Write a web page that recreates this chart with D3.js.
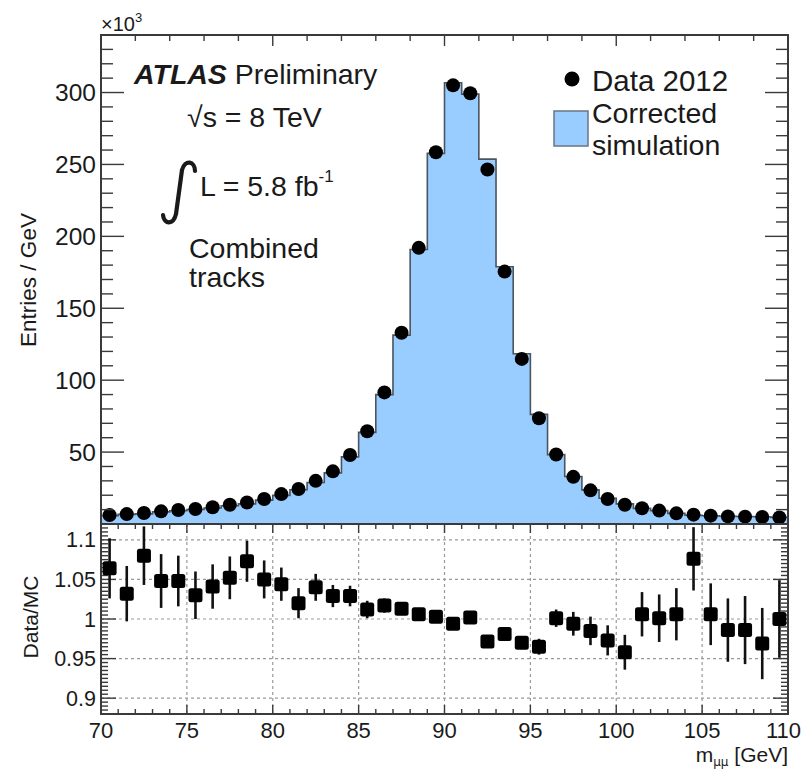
<!DOCTYPE html>
<html>
<head>
<meta charset="utf-8">
<script src="https://cdn.jsdelivr.net/npm/d3@7"></script>
<style>
  html, body { margin: 0; padding: 0; background: #fff; }
  svg { display: block; }
  text { font-family: "Liberation Sans", Arial, Helvetica, sans-serif; fill: #1a1a1a; }
</style>
</head>
<body>
<svg id="chart" width="801" height="772"></svg>
<script>
// ---------------- data ----------------
const binCenters = [70.5,71.5,72.5,73.5,74.5,75.5,76.5,77.5,78.5,79.5,
                    80.5,81.5,82.5,83.5,84.5,85.5,86.5,87.5,88.5,89.5,
                    90.5,91.5,92.5,93.5,94.5,95.5,96.5,97.5,98.5,99.5,
                    100.5,101.5,102.5,103.5,104.5,105.5,106.5,107.5,108.5,109.5];
// Data 2012, entries / GeV (x10^3)
const dataValues = [6.2,6.9,7.6,8.8,9.7,10.4,11.6,13.4,15.0,17.4,
                    20.8,24.3,30.0,36.6,48.0,64.5,91.5,133,192,258.5,
                    305,299.5,246.5,175.5,114.8,73.5,48.3,32.8,23.4,17.4,
                    13.4,10.9,9.3,7.4,6.5,5.8,5.3,5.1,4.9,4.6];
// Corrected simulation, entries / GeV (x10^3)
const mcValues = [5.83,6.69,7.04,8.40,9.26,10.10,11.14,12.74,13.98,16.57,
                  19.92,23.82,28.85,35.57,46.65,63.74,89.97,131.3,190.9,257.7,
                  306.8,298.9,253.7,178.9,118.4,76.2,48.25,33.0,23.76,17.88,
                  13.99,10.83,9.29,7.36,6.04,5.77,5.38,5.17,5.06,4.6];
// Data / MC ratio and its uncertainty
const ratioValues = [1.064,1.032,1.080,1.048,1.048,1.030,1.041,1.052,1.073,1.050,
                     1.044,1.020,1.040,1.029,1.029,1.012,1.017,1.013,1.006,1.003,
                     0.994,1.002,0.9715,0.981,0.970,0.965,1.001,0.994,0.985,0.973,
                     0.958,1.006,1.001,1.006,1.076,1.006,0.986,0.986,0.969,1.000];
const ratioErrors = [0.038,0.035,0.037,0.034,0.032,0.030,0.028,0.027,0.026,0.024,
                     0.021,0.019,0.017,0.014,0.013,0.011,0.009,0.008,0.007,0.006,
                     0.005,0.005,0.006,0.007,0.008,0.010,0.011,0.015,0.018,0.019,
                     0.022,0.028,0.030,0.033,0.040,0.039,0.040,0.043,0.045,0.049];
const mainYTicks = [50,100,150,200,250,300];
const ratioYTicks = [0.9,0.95,1,1.05,1.1];
const ratioYTickLabels = ["0.9","0.95","1","1.05","1.1"];
const xTicks = [70,75,80,85,90,95,100,105,110];
const binWidth = 1;

// ---------------- layout ----------------
const L = 101, R = 788;
const mainTop = 35, mainBot = 524;
const ratTop = 524, ratBot = 714;

const svg = d3.select("#chart");
const x = d3.scaleLinear().domain([70,110]).range([L,R]);
const y = d3.scaleLinear().domain([0,340]).range([mainBot,mainTop]);
const yr = d3.scaleLinear().domain([0.88,1.12]).range([ratBot,ratTop]);

const frameColor = "#3a3a3a";
const fillColor = "#99ccff";
const annSize = 28.5;

// ---------------- main panel ----------------
const gMain = svg.append("g");
const stepPts = [];
binCenters.forEach((c,i) => {
  stepPts.push([c - binWidth/2, mcValues[i]]);
  stepPts.push([c + binWidth/2, mcValues[i]]);
});
const area = d3.area().x(d => x(d[0])).y0(y(0)).y1(d => y(d[1]));
gMain.append("path").datum(stepPts).attr("d", area).attr("fill", fillColor);
const line = d3.line().x(d => x(d[0])).y(d => y(d[1]));
gMain.append("path").datum(stepPts).attr("d", line)
  .attr("fill","none").attr("stroke","#4a5560").attr("stroke-width",1.6);

gMain.selectAll("circle.data").data(binCenters).enter().append("circle")
  .attr("cx", d => x(d)).attr("cy", (d,i) => y(dataValues[i]))
  .attr("r", 7).attr("fill","#000");

const yMinor = d3.range(10, 340, 10).filter(v => v % 50 !== 0);
function hTicks(g, vals, scale, x0, dir, len, color) {
  g.selectAll(null).data(vals).enter().append("line")
    .attr("x1", x0).attr("x2", x0 + dir*len)
    .attr("y1", d => scale(d)).attr("y2", d => scale(d))
    .attr("stroke", color).attr("stroke-width", 1.4);
}
function vTicks(g, vals, scale, y0, dir, len, color) {
  g.selectAll(null).data(vals).enter().append("line")
    .attr("y1", y0).attr("y2", y0 + dir*len)
    .attr("x1", d => scale(d)).attr("x2", d => scale(d))
    .attr("stroke", color).attr("stroke-width", 1.4);
}
hTicks(gMain, mainYTicks, y, L, 1, 23, frameColor);
hTicks(gMain, yMinor, y, L, 1, 12, frameColor);
hTicks(gMain, mainYTicks, y, R, -1, 23, frameColor);
hTicks(gMain, yMinor, y, R, -1, 12, frameColor);
const topMajor = [80,90,100];
const topMinor = d3.range(72,110,2).filter(v => v % 10 !== 0);
vTicks(gMain, topMajor, x, mainTop, 1, 11, frameColor);
vTicks(gMain, topMinor, x, mainTop, 1, 6, frameColor);

gMain.selectAll("text.ylab").data(mainYTicks).enter().append("text")
  .attr("x", 96).attr("y", d => y(d)).attr("dy","0.35em")
  .attr("text-anchor","end").attr("font-size", 24.5).text(d => d);

const t103 = svg.append("text").attr("x", 101).attr("y", 31).attr("font-size", 20);
t103.append("tspan").text("\u00d710");
t103.append("tspan").attr("font-size", 13).attr("dy", -9).text("3");

svg.append("text").attr("transform", `translate(36,280) rotate(-90)`)
  .attr("text-anchor","middle").attr("font-size", 22.5).text("Entries / GeV");

// ---------------- annotations ----------------
const tAtlas = svg.append("text").attr("x", 134).attr("y", 84).attr("font-size", annSize);
tAtlas.append("tspan").attr("font-weight","bold").attr("font-style","italic").text("ATLAS");
tAtlas.append("tspan").text(" Preliminary");

svg.append("text").attr("x", 187).attr("y", 127).attr("font-size", annSize).text("\u221as = 8 TeV");

// integral sign
svg.append("path")
  .attr("d", "M 195 171 C 195 161, 185 159, 182 170 L 176 214 C 173 226, 164 224, 163 215")
  .attr("fill","none").attr("stroke","#1a1a1a").attr("stroke-width",4.2).attr("stroke-linecap","round");
const tLum = svg.append("text").attr("x", 200).attr("y", 196).attr("font-size", annSize);
tLum.append("tspan").text("L = 5.8 fb");
tLum.append("tspan").attr("font-size", 17).attr("dy", -14).text("-1");

svg.append("text").attr("x", 189).attr("y", 258).attr("font-size", annSize).text("Combined");
svg.append("text").attr("x", 189).attr("y", 287).attr("font-size", annSize).text("tracks");

// legend
svg.append("circle").attr("cx", 572).attr("cy", 79).attr("r", 7.5).attr("fill","#000");
svg.append("text").attr("x", 592).attr("y", 91).attr("font-size", 29.5).text("Data 2012");
svg.append("rect").attr("x", 554).attr("y", 111).attr("width", 34).attr("height", 35)
  .attr("fill", fillColor).attr("stroke","#6a7680").attr("stroke-width",1.5);
svg.append("text").attr("x", 592).attr("y", 123).attr("font-size", 28.5).text("Corrected");
svg.append("text").attr("x", 592).attr("y", 155).attr("font-size", 28.5).text("simulation");

// ---------------- ratio panel ----------------
const gRat = svg.append("g");
const gridX = [75,80,85,90,95,100,105];
gRat.selectAll(null).data(gridX).enter().append("line")
  .attr("x1", d => x(d)).attr("x2", d => x(d)).attr("y1", ratTop).attr("y2", ratBot)
  .attr("stroke","#9a9a9a").attr("stroke-width",1.2).attr("stroke-dasharray","3,3");
gRat.selectAll(null).data(ratioYTicks).enter().append("line")
  .attr("x1", L).attr("x2", R).attr("y1", d => yr(d)).attr("y2", d => yr(d))
  .attr("stroke","#9a9a9a").attr("stroke-width",1.2).attr("stroke-dasharray","3,3");

const xMinorR = d3.range(71,110,1).filter(v => v % 5 !== 0);
const xMajorR = [75,80,85,90,95,100,105];
vTicks(gRat, xMajorR, x, ratBot, -1, 9, frameColor);
vTicks(gRat, xMinorR, x, ratBot, -1, 5, frameColor);
vTicks(gRat, xMajorR, x, ratTop, 1, 9, frameColor);
vTicks(gRat, xMinorR, x, ratTop, 1, 5, frameColor);
const yrMinor = d3.range(0.885, 1.12, 0.005).filter(v => Math.abs(Math.round(v*20) - v*20) > 1e-6);
hTicks(gRat, ratioYTicks, yr, L, 1, 15, frameColor);
hTicks(gRat, yrMinor, yr, L, 1, 7, frameColor);
hTicks(gRat, ratioYTicks, yr, R, -1, 15, frameColor);
hTicks(gRat, yrMinor, yr, R, -1, 7, frameColor);

gRat.selectAll("line.err").data(binCenters).enter().append("line")
  .attr("x1", d => x(d)).attr("x2", d => x(d))
  .attr("y1", (d,i) => yr(Math.min(ratioValues[i] + ratioErrors[i], 1.12)))
  .attr("y2", (d,i) => yr(Math.max(ratioValues[i] - ratioErrors[i], 0.88)))
  .attr("stroke","#111").attr("stroke-width",2.6);
const ms = 14;
gRat.selectAll("rect.pt").data(binCenters).enter().append("rect")
  .attr("x", d => x(d) - ms/2).attr("y", (d,i) => yr(ratioValues[i]) - ms/2)
  .attr("width", ms).attr("height", ms).attr("rx", 2.5).attr("fill","#000");

gRat.selectAll("text.rl").data(ratioYTicks).enter().append("text")
  .attr("x", 96).attr("y", d => yr(d)).attr("dy","0.35em")
  .attr("text-anchor","end").attr("font-size", 21.5).text((d,i) => ratioYTickLabels[i]);
svg.append("text").attr("transform", `translate(38,617) rotate(-90)`)
  .attr("text-anchor","middle").attr("font-size", 21).text("Data/MC");

// x labels
svg.selectAll("text.xl").data(xTicks).enter().append("text")
  .attr("x", d => d === 110 ? 801 : x(d)).attr("y", 738)
  .attr("text-anchor", d => d === 110 ? "end" : "middle")
  .attr("font-size", 22).text(d => d);
const tx = svg.append("text").attr("x", 788).attr("y", 762).attr("text-anchor","end").attr("font-size", 21);
tx.append("tspan").text("m");
tx.append("tspan").attr("font-size", 12).attr("dy", 4).attr("font-family","DejaVu Sans").text("\u03bc\u03bc");
tx.append("tspan").attr("dy", -4).text(" [GeV]");

// frames
svg.append("rect").attr("x", L).attr("y", mainTop).attr("width", R-L).attr("height", mainBot-mainTop)
  .attr("fill","none").attr("stroke",frameColor).attr("stroke-width",2);
svg.append("rect").attr("x", L).attr("y", ratTop).attr("width", R-L).attr("height", ratBot-ratTop)
  .attr("fill","none").attr("stroke",frameColor).attr("stroke-width",2);
</script>
</body>
</html>
